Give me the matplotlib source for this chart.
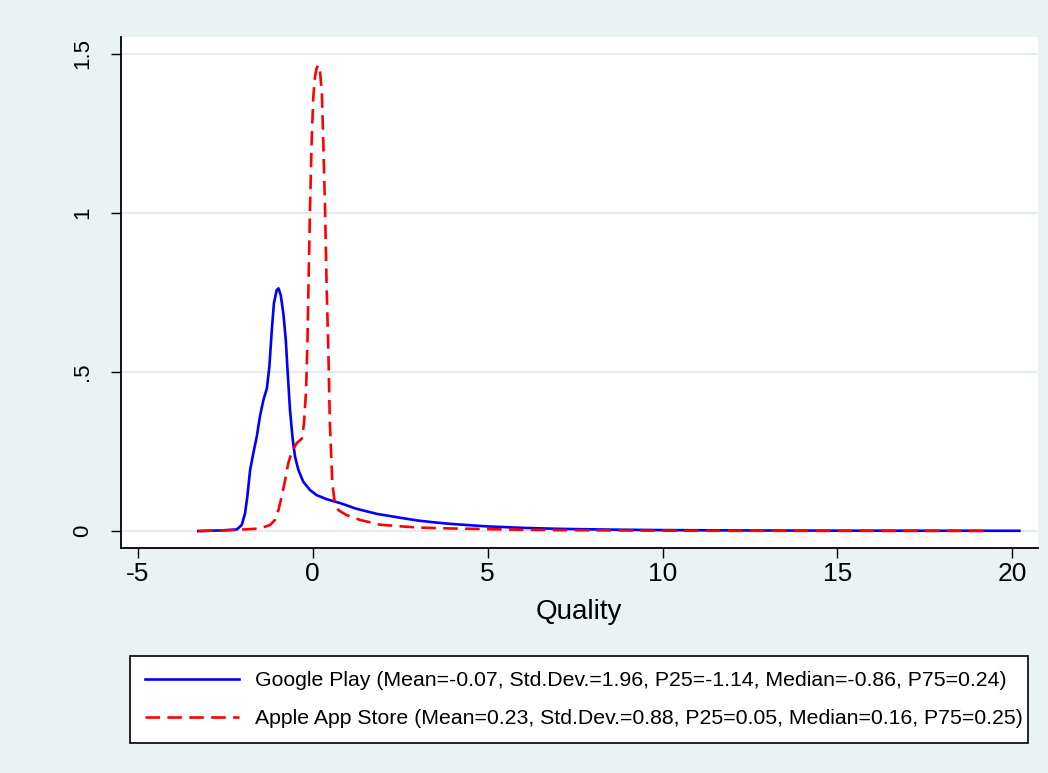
import matplotlib
matplotlib.use("Agg")
import matplotlib.pyplot as plt

# kernel density curves
gp_x = [-3.27, -2.6, -2.17, -2.03, -1.935, -1.87, -1.79, -1.70, -1.60, -1.51, -1.41, -1.31,
        -1.24, -1.17, -1.11, -1.03, -0.98, -0.915, -0.84, -0.77, -0.715, -0.65, -0.57, -0.506,
        -0.41, -0.27, -0.08, 0.11, 0.4, 0.78, 1.25, 1.83, 2.49, 3.0, 3.5, 4.0, 5.0, 6.0, 7.0,
        8.5, 10.0, 12.0, 15.0, 20.2]
gp_y = [0.0, 0.002, 0.005, 0.019, 0.056, 0.108, 0.192, 0.244, 0.297, 0.36, 0.412, 0.449,
        0.517, 0.632, 0.716, 0.758, 0.763, 0.742, 0.684, 0.60, 0.496, 0.38, 0.286, 0.234,
        0.192, 0.155, 0.129, 0.113, 0.1, 0.088, 0.07, 0.054, 0.042, 0.033, 0.027, 0.022, 0.0145,
        0.01, 0.007, 0.0045, 0.003, 0.002, 0.0012, 0.0008]

ap_x = [-3.27, -2.27, -1.51, -1.22, -1.08, -0.98, -0.89, -0.79, -0.70, -0.60, -0.46, -0.31,
        -0.25, -0.19, -0.15, -0.115, -0.077, -0.03, 0.017, 0.066, 0.11, 0.16, 0.21, 0.26,
        0.30, 0.35, 0.40, 0.45, 0.49, 0.56, 0.62, 0.73, 0.97, 1.35, 1.92, 2.49, 3.0, 4.0,
        5.0, 6.0, 7.0, 8.5, 10.0, 12.0, 15.0, 19.2]
ap_y = [0.0, 0.003, 0.008, 0.019, 0.035, 0.066, 0.108, 0.16, 0.213, 0.249, 0.276, 0.291,
        0.339, 0.443, 0.60, 0.81, 1.02, 1.23, 1.366, 1.43, 1.455, 1.465, 1.444, 1.376,
        1.23, 1.02, 0.758, 0.548, 0.339, 0.15, 0.097, 0.066, 0.05, 0.035, 0.02, 0.015, 0.011, 0.008,
        0.006, 0.004, 0.003, 0.002, 0.001, 0.0008, 0.0005, 0.0004]

gp_label = "Google Play (Mean=-0.07, Std.Dev.=1.96, P25=-1.14, Median=-0.86, P75=0.24)"
ap_label = "Apple App Store (Mean=0.23, Std.Dev.=0.88, P25=0.05, Median=0.16, P75=0.25)"

x_ticks = [-5, 0, 5, 10, 15, 20]
y_ticks = [0, 0.5, 1, 1.5]
y_tick_labels = ["0", ".5", "1", "1.5"]

plt.rcParams["font.family"] = ["Liberation Sans", "DejaVu Sans"]

bg = "#EAF2F3"
fig = plt.figure(figsize=(10.48, 7.73), dpi=100, facecolor=bg)
ax = fig.add_axes([0.1155, 0.291, 0.8745, 0.661])
ax.set_facecolor("white")

ax.plot(gp_x, gp_y, color="#0000FF", lw=1.9, label=gp_label)
ax.plot(ap_x, ap_y, color="#FF0000", lw=1.9, dashes=(5.5, 2.8), label=ap_label)

ax.set_xlim(-5.48, 20.72)
ax.set_ylim(-0.0535, 1.553)

ax.set_yticks(y_ticks)
ax.set_yticklabels(y_tick_labels, rotation=90, va="center")
ax.set_xticks(x_ticks)
ax.set_xticklabels([str(t) for t in x_ticks])
ax.tick_params(axis="x", length=7.2, width=1, pad=3, labelsize=19)
ax.tick_params(axis="y", length=7.2, width=1, pad=13, labelsize=16)

ax.grid(axis="y", color="#E4ECEF", lw=1.5)
ax.set_axisbelow(True)
for s in ["top", "right"]:
    ax.spines[s].set_visible(False)
for s in ["left", "bottom"]:
    ax.spines[s].set_linewidth(1.3)

ax.set_xlabel("Quality", fontsize=20, labelpad=9)

leg = ax.legend(loc="center left", bbox_to_anchor=(0.124, 0.0388, 0.857, 0.1125),
                bbox_transform=fig.transFigure, mode="expand", fontsize=15.3,
                handlelength=4.4, handletextpad=0.75, borderaxespad=0, borderpad=0.72,
                labelspacing=0.9, fancybox=False, frameon=True, framealpha=1)
leg.get_frame().set_facecolor("white")
leg.get_frame().set_edgecolor("black")
leg.get_frame().set_linewidth(1.2)

fig.savefig("out.png", dpi=100, facecolor=bg)
